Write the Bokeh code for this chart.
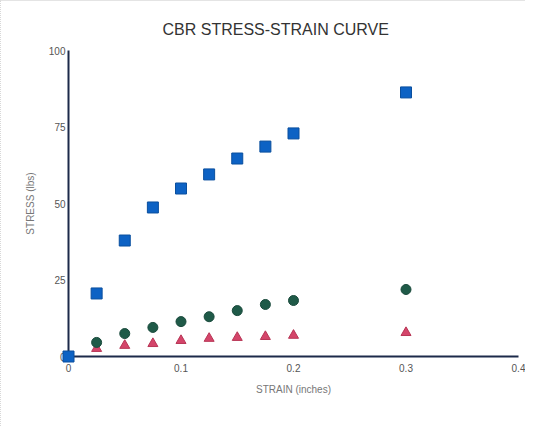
from bokeh.plotting import figure
from bokeh.models import Range1d, FixedTicker
from bokeh.embed import file_html
from bokeh.resources import INLINE

strain = [0.0, 0.025, 0.05, 0.075, 0.1, 0.125, 0.15, 0.175, 0.2, 0.3]
stress_blue = [0.0, 20.6, 37.9, 48.7, 54.9, 59.5, 64.7, 68.6, 72.9, 86.3]
strain_low = [0.025, 0.05, 0.075, 0.1, 0.125, 0.15, 0.175, 0.2, 0.3]
stress_green = [4.6, 7.5, 9.5, 11.4, 13.0, 15.0, 17.0, 18.3, 21.9]
stress_red = [2.6, 3.6, 4.2, 5.2, 5.9, 6.2, 6.5, 6.9, 7.8]
x_ticks = [0, 0.1, 0.2, 0.3, 0.4]
x_tick_labels = {0: "0", 0.1: "0.1", 0.2: "0.2", 0.3: "0.3", 0.4: "0.4"}
y_ticks = [0, 25, 50, 75, 100]

p = figure(width=525, height=426, output_backend="svg", toolbar_location=None,
           x_range=Range1d(0, 0.4), y_range=Range1d(0, 100),
           title="CBR STRESS-STRAIN CURVE",
           min_border_left=67, min_border_right=8, min_border_top=49, min_border_bottom=71,
           styles={"border-top": "1px solid #e4e4e4", "border-left": "1px dotted #d8d8d8"})

p.title.text_font = "Liberation Sans"
p.title.text_font_size = "16px"
p.title.text_font_style = "normal"
p.title.text_color = "#333333"
p.title.align = "left"
p.title.offset = 94
p.title.standoff = 25

p.grid.visible = False
p.outline_line_color = None
p.background_fill_color = "white"
p.border_fill_color = "white"

for ax in (p.xaxis[0], p.yaxis[0]):
    ax.axis_line_color = "#1c2a4a"
    ax.axis_line_width = 2
    ax.major_tick_line_color = None
    ax.minor_tick_line_color = None
    ax.major_tick_out = 0
    ax.major_tick_in = 0
    ax.major_label_text_font = "Liberation Sans"
    ax.major_label_text_font_size = "10px"
    ax.major_label_text_color = "#555555"
    ax.axis_label_text_font = "Liberation Sans"
    ax.axis_label_text_font_size = "10px"
    ax.axis_label_text_font_style = "normal"
    ax.axis_label_text_color = "#777777"

p.xaxis.ticker = FixedTicker(ticks=x_ticks)
p.xaxis.major_label_overrides = x_tick_labels
p.xaxis.major_label_standoff = 7
p.xaxis.axis_label = "STRAIN (inches)"
p.xaxis.axis_label_standoff = 9

p.yaxis.ticker = FixedTicker(ticks=y_ticks)
p.yaxis.major_label_standoff = 3
p.yaxis.axis_label = "STRESS (lbs)"
p.yaxis.axis_label_standoff = 10

p.scatter(strain_low, stress_red, marker="triangle", size=10,
          fill_color="#d4456a", line_color="#b83555")
p.scatter(strain_low, stress_green, marker="circle", size=10,
          fill_color="#1f5a48", line_color="#1a4a3c")
p.scatter(strain, stress_blue, marker="square", size=11,
          fill_color="#0d62c4", line_color="#0a4f9e", level="overlay")

open("out.html", "w").write(file_html(p, INLINE))
